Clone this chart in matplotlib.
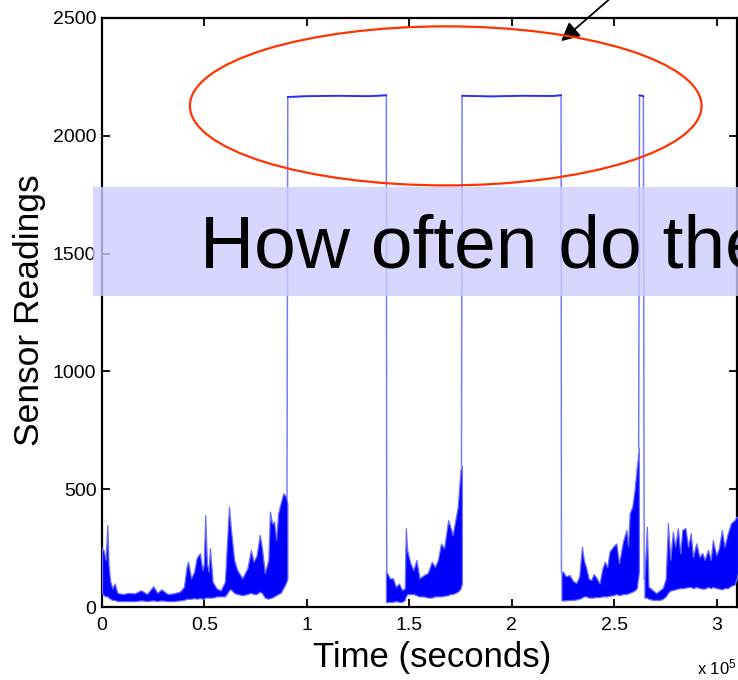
import numpy as np
import matplotlib
matplotlib.use('Agg')
import matplotlib.pyplot as plt
from matplotlib.patches import Ellipse, Rectangle

plt.rcParams['font.family'] = ['Liberation Sans', 'DejaVu Sans']
plt.rcParams['mathtext.default'] = 'regular'

# Time in units of 1e5 seconds. Noisy stretches kept as upper / lower envelope
seg1_t = [0.000, 0.008, 0.018, 0.026, 0.032, 0.040, 0.050, 0.062, 0.075, 0.10, 0.13, 0.16,
          0.19, 0.22, 0.25, 0.27, 0.29, 0.32, 0.35, 0.38, 0.40, 0.413, 0.42, 0.435,
          0.45, 0.462, 0.478, 0.49, 0.497, 0.504, 0.512, 0.52, 0.527, 0.54, 0.56, 0.58,
          0.60, 0.612, 0.620, 0.628, 0.645, 0.66, 0.685, 0.71, 0.727, 0.74, 0.755, 0.77,
          0.78, 0.795, 0.812, 0.820, 0.83, 0.84, 0.85, 0.86, 0.872, 0.885, 0.897, 0.905]
seg1_hi = [250, 240, 200, 348, 180, 110, 80, 100, 60, 55, 60, 58,
           71, 55, 88, 60, 75, 55, 58, 65, 85, 171, 192, 122,
           150, 208, 229, 157, 180, 390, 185, 150, 250, 107, 78, 71,
           107, 300, 426, 341, 200, 157, 122, 165, 242, 192, 219, 306,
           256, 144, 200, 405, 355, 362, 284, 398, 440, 483, 470, 440]
seg1_lo = [60, 50, 45, 45, 40, 35, 30, 30, 25, 25, 25, 25,
           28, 25, 28, 25, 28, 25, 25, 28, 30, 35, 35, 35,
           38, 35, 38, 35, 35, 40, 40, 40, 40, 40, 45, 45,
           45, 60, 72, 75, 60, 55, 50, 55, 60, 55, 55, 65,
           60, 40, 35, 38, 40, 45, 50, 55, 60, 80, 100, 120]

seg2_t = [1.386, 1.395, 1.405, 1.42, 1.435, 1.45, 1.465, 1.478, 1.483, 1.49, 1.505, 1.52,
          1.535, 1.55, 1.57, 1.59, 1.61, 1.625, 1.64, 1.655, 1.67, 1.69, 1.70, 1.712,
          1.725, 1.737, 1.75, 1.757]
seg2_hi = [150, 140, 121, 122, 86, 100, 72, 80, 334, 240, 187, 157,
           200, 122, 135, 144, 192, 170, 200, 270, 250, 369, 341, 306,
           369, 426, 582, 600]
seg2_lo = [21, 21, 22, 22, 25, 22, 22, 30, 45, 55, 55, 55,
           50, 45, 45, 40, 40, 45, 45, 45, 48, 50, 55, 55,
           60, 65, 78, 100]

seg3_t = [2.243, 2.250, 2.265, 2.282, 2.300, 2.315, 2.330, 2.343, 2.352, 2.364, 2.376, 2.389,
          2.400, 2.410, 2.429, 2.442, 2.454, 2.466, 2.478, 2.495, 2.511, 2.524, 2.543, 2.560,
          2.568, 2.576, 2.589, 2.600, 2.611, 2.621]
seg3_hi = [150, 150, 130, 136, 110, 102, 130, 256, 200, 165, 120, 115,
           140, 129, 100, 160, 192, 170, 235, 256, 270, 185, 277, 327,
           260, 398, 426, 497, 596, 675]
seg3_lo = [28, 28, 28, 30, 30, 32, 35, 40, 45, 45, 40, 40,
           40, 42, 42, 45, 45, 45, 48, 50, 55, 50, 55, 55,
           58, 60, 65, 70, 80, 150]

seg4_t = [2.648, 2.660, 2.668, 2.690, 2.706, 2.722, 2.738, 2.752, 2.763, 2.774, 2.787, 2.798,
          2.811, 2.823, 2.833, 2.848, 2.861, 2.874, 2.885, 2.901, 2.917, 2.930, 2.942, 2.958,
          2.972, 2.982, 2.999, 3.012, 3.026, 3.039, 3.055, 3.071, 3.088, 3.098, 3.105]
seg4_hi = [120, 341, 86, 70, 59, 70, 81, 120, 356, 200, 320, 256,
           335, 229, 327, 335, 255, 313, 212, 270, 212, 230, 200, 242,
           200, 284, 220, 250, 327, 255, 313, 356, 369, 383, 383]
seg4_lo = [40, 40, 35, 30, 30, 30, 35, 45, 60, 70, 72, 75,
           78, 80, 80, 82, 85, 85, 80, 85, 80, 78, 78, 85,
           80, 85, 80, 78, 75, 80, 80, 90, 95, 120, 150]

# saturated plateaus (nan = gap between them)
plat_t = np.array([0.903, 0.907, 1.00, 1.15, 1.30, 1.388, 1.390, np.nan,
                   1.755, 1.758, 1.90, 2.05, 2.20, 2.241, 2.243, np.nan,
                   2.620, 2.624, 2.635, 2.643, 2.647, np.nan,
                   3.104, 3.108, 3.20])
plat_y = np.array([440, 2165, 2168, 2170, 2168, 2172, 149, np.nan,
                   600, 2170, 2167, 2170, 2169, 2172, 149, np.nan,
                   675, 2172, 2170, 2168, 120, np.nan,
                   383, 2170, 2170])

fig = plt.figure(figsize=(7.38, 6.80), dpi=100)
ax = fig.add_axes([102/738, 73/680, 635/738, 589/680])

ax.plot(plat_t, plat_y, color='#7a7aff', lw=1.1, zorder=2)
# plateau tops look darker than the edges
ax.plot(plat_t, np.where(plat_y > 2000, plat_y, np.nan), color='#2b2bff', lw=1.3, zorder=2)
for t, hi, lo in [(seg1_t, seg1_hi, seg1_lo), (seg2_t, seg2_hi, seg2_lo),
                  (seg3_t, seg3_hi, seg3_lo), (seg4_t, seg4_hi, seg4_lo)]:
    ax.fill_between(t, lo, hi, facecolor='#0000ff', edgecolor='#6a6aff', lw=0.9, zorder=3)

ax.set_xlim(0, 3.1)
ax.set_ylim(0, 2500)
ax.set_xticks([0, 0.5, 1, 1.5, 2, 2.5, 3])
ax.set_xticklabels(['0', '0.5', '1', '1.5', '2', '2.5', '3'])
ax.set_yticks([0, 500, 1000, 1500, 2000, 2500])
ax.tick_params(direction='in', length=6, width=1.3, top=True, right=True, labelsize=14)
ax.tick_params(axis='y', pad=4)
ax.tick_params(axis='x', pad=7)
for s in ax.spines.values():
    s.set_linewidth(1.6)

# red ellipse around the saturated region
ax.add_patch(Ellipse((1.678, 2127), 2.498, 675, fill=False, edgecolor='#ff3300',
                     lw=1.6, zorder=4, clip_on=False))

fig.text(30/738, 1 - 310/680, 'Sensor Readings', rotation=90, fontsize=25.5,
         ha='center', va='center')
fig.text(432/738, 1 - 658/680, 'Time (seconds)', fontsize=25, ha='center', va='center')
fig.text(697/738, 1 - 667/680, r'x 10$^5$', fontsize=12, ha='left', va='center')

# overlay band with the question
fig.add_artist(Rectangle((93/738, 1 - 296/680), 645/738, 109/680, transform=fig.transFigure,
                         facecolor='#ccccff', alpha=0.8, edgecolor='none', zorder=5))
fig.text(200/738, 1 - 268/680, 'How often do the', fontsize=54, ha='left',
         va='baseline', zorder=6)

ax.annotate('', xy=(559, 637), xycoords='figure pixels', xytext=(613, 684),
            textcoords='figure pixels', annotation_clip=False,
            arrowprops=dict(arrowstyle='-|>', color='k', lw=1.3, mutation_scale=28))

plt.savefig('out.png', dpi=100)
